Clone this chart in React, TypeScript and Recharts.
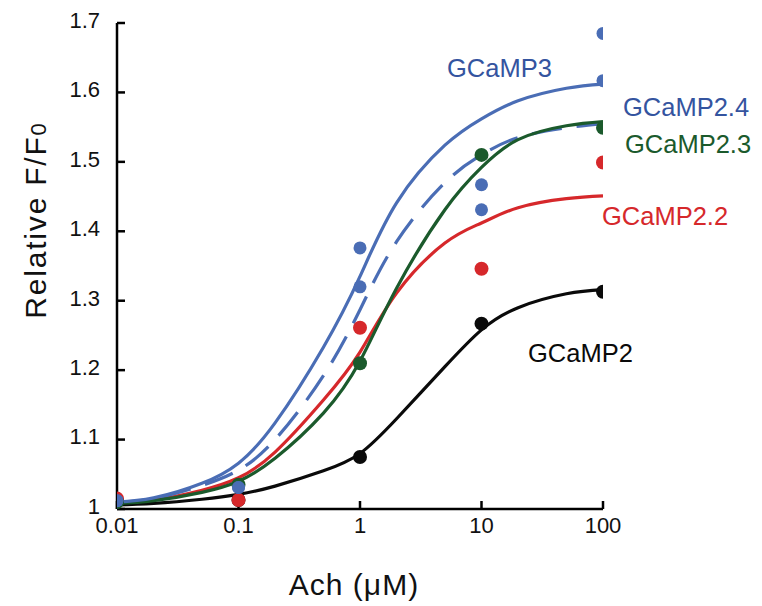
import React from 'react';
import { ComposedChart, Line, Scatter, XAxis, YAxis, Customized } from 'recharts';

// Ach concentrations (uM) where the fitted curves were read
const fitConc = [0.01, 0.02, 0.05, 0.1, 0.2, 0.5, 1, 2, 5, 10, 20, 50, 100];
const fitGCaMP3 = [1.01, 1.016, 1.037, 1.066, 1.124, 1.233, 1.335, 1.441, 1.524, 1.562, 1.588, 1.606, 1.612];
const fitGCaMP24 = [1.01, 1.015, 1.034, 1.056, 1.1, 1.192, 1.287, 1.385, 1.47, 1.51, 1.535, 1.549, 1.555];
const fitGCaMP23 = [1.008, 1.012, 1.024, 1.04, 1.073, 1.138, 1.213, 1.318, 1.431, 1.492, 1.532, 1.552, 1.558];
const fitGCaMP22 = [1.01, 1.013, 1.027, 1.045, 1.082, 1.157, 1.226, 1.311, 1.383, 1.412, 1.434, 1.447, 1.451];
const fitGCaMP2 = [1.006, 1.008, 1.014, 1.021, 1.033, 1.055, 1.08, 1.13, 1.205, 1.258, 1.29, 1.31, 1.316];

// measured points
const measConc = [0.01, 0.1, 1, 10, 100];
const ptsGCaMP3 = [1.012, 1.031, 1.376, 1.467, 1.685];
const ptsGCaMP24 = [1.012, 1.031, 1.32, 1.431, 1.617];
const ptsGCaMP23 = [1.01, 1.035, 1.21, 1.51, 1.549];
const ptsGCaMP22 = [1.015, 1.013, 1.261, 1.346, 1.499];
const ptsGCaMP2 = [1.012, 1.013, 1.075, 1.267, 1.313];

const xTicks = [0.01, 0.1, 1, 10, 100];
const yTicks = [1, 1.1, 1.2, 1.3, 1.4, 1.5, 1.6, 1.7];

const BLUE = '#4a6db5';
const BLUE_TEXT = '#34549f';
const GREEN = '#1b5a2c';
const RED = '#d6282b';
const BLACK = '#0a0a0a';
const FONT = 'Liberation Sans, Arial, Helvetica, sans-serif';

const pair = (xs: number[], ys: number[]) => xs.map((x, i) => ({ x, y: ys[i] }));

const dotShape = (color: string, r = 6.5) => (props: any) =>
  <circle cx={props.cx} cy={props.cy} r={r} fill={color} />;

const Annotations = () => (
  <g fontFamily={FONT}>
    <text x={447} y={77} fontSize={25.5} fill={BLUE_TEXT}>GCaMP3</text>
    <text x={623} y={116} fontSize={25.5} fill={BLUE_TEXT}>GCaMP2.4</text>
    <text x={625} y={153} fontSize={25.5} fill={GREEN}>GCaMP2.3</text>
    <text x={602} y={225} fontSize={25.5} fill={RED}>GCaMP2.2</text>
    <text x={528} y={362} fontSize={25.5} fill={BLACK}>GCaMP2</text>
    <text x={354} y={595} fontSize={30} letterSpacing={1} textAnchor="middle" fill="#111">Ach (μM)</text>
    <text transform="translate(46,220) rotate(-90)" fontSize={30} letterSpacing={1.8} textAnchor="middle" fill="#111">
      Relative F/F<tspan fontSize={22}>0</tspan>
    </text>
  </g>
);

export default function App() {
  const axisStyle = { stroke: '#000', strokeWidth: 2.5 };
  const tickStyle = { fill: '#111', fontSize: 22, fontFamily: FONT };
  const lineProps = { type: 'natural' as const, strokeWidth: 3.2, dot: false, activeDot: false, isAnimationActive: false };
  return (
    <div style={{ position: 'absolute', left: 0, top: 0, width: 762, height: 606, background: '#fff' }}>
      <ComposedChart width={762} height={606} margin={{ top: 23, right: 159, bottom: 67, left: 57 }}>
        <XAxis
          dataKey="x"
          type="number"
          scale="log"
          domain={[0.01, 100]}
          ticks={xTicks}
          interval={0}
          allowDataOverflow
          height={30}
          axisLine={axisStyle}
          tickLine={axisStyle}
          tickSize={-8}
          tickMargin={16}
          tick={tickStyle}
          tickFormatter={(v: number) => String(v)}
        />
        <YAxis
          dataKey="y"
          type="number"
          domain={[1, 1.7]}
          ticks={yTicks}
          interval={0}
          allowDataOverflow
          width={60}
          axisLine={axisStyle}
          tickLine={axisStyle}
          tickSize={-8}
          tickMargin={25}
          tick={{ ...tickStyle, dy: -3 }}
          tickFormatter={(v: number) => (v === 1 ? '1' : v.toFixed(1))}
        />
        <Line data={pair(fitConc, fitGCaMP2)} dataKey="y" stroke={BLACK} {...lineProps} />
        <Line data={pair(fitConc, fitGCaMP22)} dataKey="y" stroke={RED} {...lineProps} />
        <Line data={pair(fitConc, fitGCaMP24)} dataKey="y" stroke={BLUE} strokeDasharray="30 15" {...lineProps} />
        <Line data={pair(fitConc, fitGCaMP23)} dataKey="y" stroke={GREEN} {...lineProps} />
        <Line data={pair(fitConc, fitGCaMP3)} dataKey="y" stroke={BLUE} {...lineProps} />
        <Scatter data={pair(measConc, ptsGCaMP2)} dataKey="y" shape={dotShape(BLACK, 7)} isAnimationActive={false} />
        <Scatter data={pair(measConc, ptsGCaMP22)} dataKey="y" shape={dotShape(RED, 7)} isAnimationActive={false} />
        <Scatter data={pair(measConc, ptsGCaMP23)} dataKey="y" shape={dotShape(GREEN, 7)} isAnimationActive={false} />
        <Scatter data={pair(measConc, ptsGCaMP24)} dataKey="y" shape={dotShape(BLUE, 6.5)} isAnimationActive={false} />
        <Scatter data={pair(measConc, ptsGCaMP3)} dataKey="y" shape={dotShape(BLUE, 6.5)} isAnimationActive={false} />
        <Customized component={Annotations} />
      </ComposedChart>
    </div>
  );
}
